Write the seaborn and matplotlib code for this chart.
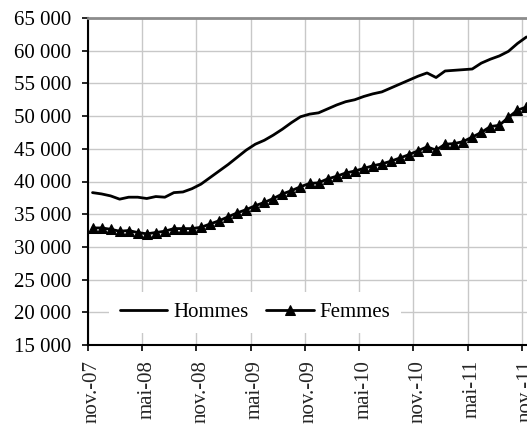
"""
Demandeurs d'emploi : Hommes vs Femmes, nov. 2007 - nov. 2011
"""

import matplotlib
matplotlib.use("Agg")
import matplotlib.pyplot as plt
from matplotlib.ticker import FixedLocator, FuncFormatter
import seaborn as sns
import numpy as np

# series mensuelles, nov.-07 -> nov.-11 (49 mois)
hommes = [38300, 38100, 37800, 37300, 37600, 37600, 37400, 37700, 37600, 38300,
          38400, 38900, 39600, 40600, 41600, 42600, 43700, 44800, 45700, 46300,
          47100, 48000, 49000, 49900, 50300, 50500, 51100, 51700, 52200, 52500,
          53000, 53400, 53700, 54300, 54900, 55500, 56100, 56600, 55900, 56900,
          57000, 57100, 57200, 58100, 58700, 59200, 59900, 61100, 62100]
femmes = [32900, 32900, 32700, 32400, 32500, 32200, 32000, 32200, 32400, 32800,
          32800, 32800, 33000, 33500, 34000, 34600, 35200, 35700, 36300, 36800,
          37400, 38100, 38600, 39200, 39700, 39800, 40400, 40800, 41300, 41600,
          42000, 42400, 42700, 43100, 43600, 44100, 44700, 45300, 44800, 45700,
          45800, 46100, 46800, 47500, 48400, 48600, 49800, 50900, 51400]
tick_labels = ["nov.-07", "mai-08", "nov.-08", "mai-09", "nov.-09",
               "mai-10", "nov.-10", "mai-11", "nov.-11"]
y_ticks = list(range(15000, 65001, 5000))

sns.set_theme(style="whitegrid")
plt.rcParams["font.family"] = ["Liberation Serif", "DejaVu Serif"]

W, H = 527, 428
fig = plt.figure(figsize=(W / 100, H / 100), dpi=100)
ax = fig.add_axes([88 / W, 83 / H, 443 / W, 327 / H])

x = np.arange(len(hommes))
sns.lineplot(x=x, y=hommes, ax=ax, color="black", lw=2, label="Hommes")
sns.lineplot(x=x, y=femmes, ax=ax, color="black", lw=2, marker="^",
             markersize=7, markeredgecolor="black", label="Femmes")

ax.set_xlim(-0.5, len(hommes) - 0.5)
ax.set_ylim(15000, 65000)

# graduations entre categories, etiquettes au centre
ax.xaxis.set_major_locator(FixedLocator([6 * k - 0.5 for k in range(len(tick_labels))]))
ax.xaxis.set_minor_locator(FixedLocator([6 * k for k in range(len(tick_labels))]))
ax.set_xticklabels([], minor=False)
ax.set_xticklabels(tick_labels, minor=True, rotation=90, fontsize=15)
ax.tick_params(axis="x", which="major", bottom=True, length=4.5, width=1.2,
               color="black", direction="out")
ax.tick_params(axis="x", which="minor", bottom=True, length=0, pad=11)

ax.set_yticks(y_ticks)
ax.yaxis.set_major_formatter(FuncFormatter(lambda v, p: f"{int(v):,}".replace(",", " ")))
ax.tick_params(axis="y", left=True, length=4.5, width=1.2, color="black",
               direction="out", pad=7.5, labelsize=15, labelcolor="black")

ax.grid(True, which="major", color="#c8c8c8", lw=1)
ax.grid(False, which="minor")
ax.set_facecolor("white")

for side in ["left", "bottom"]:
    ax.spines[side].set_color("black")
    ax.spines[side].set_linewidth(1.5)
ax.spines["top"].set_color("#8c8c8c")
ax.spines["top"].set_linewidth(2)
ax.spines["right"].set_visible(False)

leg = ax.legend(loc="center", bbox_to_anchor=(0.377, 0.10), ncol=2,
                frameon=True, fontsize=15, handlelength=2.3,
                handletextpad=0.3, columnspacing=0.8, borderpad=0.5)
leg.get_frame().set_facecolor("white")
leg.get_frame().set_edgecolor("none")
leg.get_frame().set_alpha(1)
leg.get_frame().set_boxstyle("square", pad=0)
for t in leg.get_texts():
    t.set_color("black")

fig.savefig("out.png", dpi=100)
